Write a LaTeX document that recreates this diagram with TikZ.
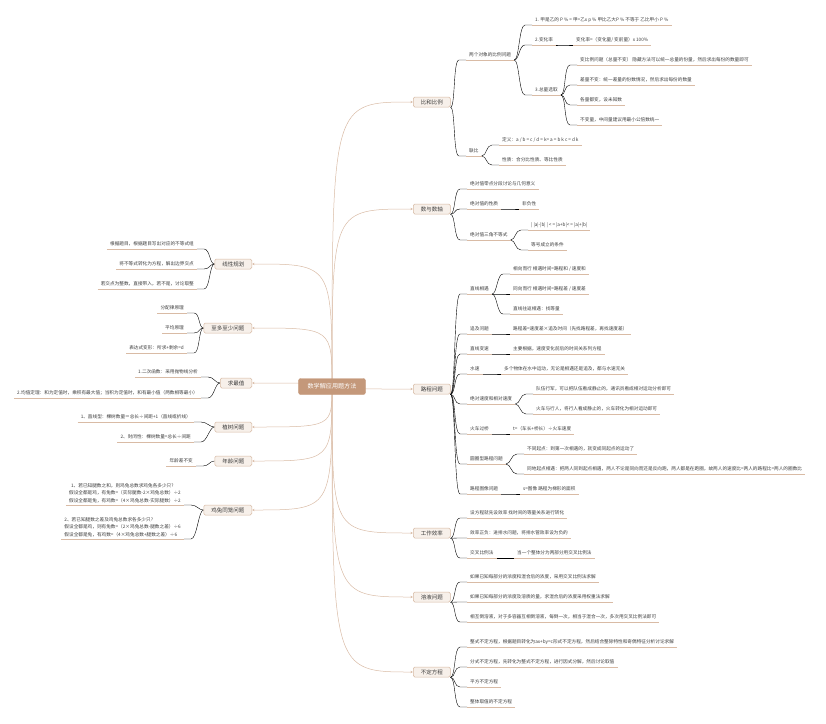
\documentclass[tikz,border=0pt]{standalone}
\usepackage{fontspec}
\setmainfont{Noto Sans CJK SC}
\usetikzlibrary{arrows.meta,backgrounds}

\definecolor{linec}{HTML}{D9BBA5}
\definecolor{boxfill}{HTML}{F7F0EA}
\definecolor{boxline}{HTML}{D6B9A3}
\definecolor{rootfill}{HTML}{C4987A}
\definecolor{textc}{HTML}{3C3C3C}

\begin{document}
\begin{tikzpicture}[x=1pt, y=-1pt,
  link/.style={draw=linec, line width=0.5pt},
  uline/.style={append after command={(\tikzlastnode.south west) edge[link] (\tikzlastnode.south east)}},
  root/.style={draw=rootfill, fill=rootfill, rounded corners=2pt, text=white, font=\fontsize{6.1}{7}\selectfont, inner xsep=9pt, inner ysep=0pt, minimum height=16pt},
  topic/.style={draw=boxline, fill=boxfill, rounded corners=1.5pt, line width=0.5pt, text=textc, font=\fontsize{5.5}{6}\selectfont, inner xsep=7.5pt, inner ysep=0pt, minimum height=10pt},
  leaf/.style={anchor=south west, inner xsep=3pt, inner ysep=2.2pt, text height=3.9pt, text depth=0.7pt, text=textc, font=\fontsize{4.65}{5}\selectfont, uline},
  lleaf/.style={leaf, anchor=south east},
  mleaf/.style={anchor=south east, align=left, inner xsep=3pt, inner ysep=2.2pt, text=textc, font=\fontsize{4.65}{7.4}\selectfont, uline},
  rlink/.style={link, to path={.. controls +(5,0) and +(-6,0) .. ([xshift=-7pt]\tikztotarget) -- (\tikztotarget)}},
  llink/.style={link, to path={.. controls +(-5,0) and +(6,0) .. ([xshift=7pt]\tikztotarget) -- (\tikztotarget)}},
  trunk/.style={link, -{Stealth[length=2.6pt, width=2.4pt]}}
]
\useasboundingbox (0,0) rectangle (826,723);

% Root
\node[root] (root) at (332,386.5) {数学解应用题方法};

% Main topics, right
\node[topic, anchor=west] (bh) at (413,102) {比和比例};
\node[topic, anchor=west] (sz) at (413,209) {数与数轴};
\node[topic, anchor=west] (lc) at (413,389) {路程问题};
\node[topic, anchor=west] (gz) at (413,533) {工作效率};
\node[topic, anchor=west] (ry) at (413,597) {溶液问题};
\node[topic, anchor=west] (bd) at (413,672) {不定方程};

% Main topics, left
\node[topic, anchor=east] (xx) at (252,264) {线性规划};
\node[topic, anchor=east] (zd) at (252,328) {至多至少问题};
\node[topic, anchor=east] (qz) at (252,383) {求最值};
\node[topic, anchor=east] (zs) at (252,427) {植树问题};
\node[topic, anchor=east] (nl) at (252,461) {年龄问题};
\node[topic, anchor=east] (jt) at (252,510) {鸡兔同笼问题};

% Ratio and proportion
\node[leaf] (bh1) at (466,60) {两个对象的比例问题};
\node[leaf] (bh11) at (532,25) {1. 甲是乙的 P \% = 甲=乙x p \% 甲比乙大P \% 不等于 乙比甲小 P \%};
\node[leaf] (bh12) at (532,45) {2.变化率};
\node[leaf] (bh121) at (573,45) {变化率=（变化量/ 变前量）x 100\%};
\node[leaf] (bh13) at (532,95) {3.总量选取};
\node[leaf] (bh131) at (577,65) {变比例问题（总量不变） 隐藏方法可以统一总量的份量，然后求出每份的数量即可};
\node[leaf] (bh132) at (577,85) {差量不变：统一差量的份数情况，然后求出每份的数量};
\node[leaf] (bh133) at (577,105) {各量都变，设未知数};
\node[leaf] (bh134) at (577,125) {不变量，中间量建议用最小公倍数统一};
\node[leaf] (bh2) at (466,156) {联比};
\node[leaf] (bh21) at (499,145) {定义：a / b = c / d = k= a = b k c = d k};
\node[leaf] (bh22) at (499,165) {性质：合分比性质、等比性质};

% Numbers and number line
\node[leaf] (sz1) at (467,189) {绝对值零点分段讨论与几何意义};
\node[leaf] (sz2) at (467,209) {绝对值的性质};
\node[leaf] (sz21) at (519,209) {非负性};
\node[leaf] (sz3) at (467,240) {绝对值三角不等式};
\node[leaf] (sz31) at (528,230) {| |a|-|b| | < = |a+b|< = |a|+|b|};
\node[leaf] (sz32) at (528,250) {等号成立的条件};

% Distance
\node[leaf] (lc1) at (467,294) {直线相遇};
\node[leaf] (lc11) at (510,274) {相向而行 相遇时间=路程和 / 速度和};
\node[leaf] (lc12) at (510,294) {同向而行 相遇时间=路程差 / 速度差};
\node[leaf] (lc13) at (510,314) {直线往返相遇：找等量};
\node[leaf] (lc2) at (467,334) {追及问题};
\node[leaf] (lc21) at (510,334) {路程差=速度差×追及时间（先找路程差，再找速度差）};
\node[leaf] (lc3) at (467,354) {直线变速};
\node[leaf] (lc31) at (510,354) {主要根据，速度变化前后的时间关系列方程};
\node[leaf] (lc4) at (467,374) {水速};
\node[leaf] (lc41) at (501,374) {多个物体在水中运动，无论是相遇还是追及，都与水速无关};
\node[leaf] (lc5) at (467,404) {绝对速度和相对速度};
\node[leaf] (lc51) at (533,394) {队伍行军，可以把队伍看成静止的，通讯员看成相对运动分析即可};
\node[leaf] (lc52) at (533,414) {火车与行人，将行人看成静止的，火车转化为相对运动即可};
\node[leaf] (lc6) at (467,434) {火车过桥};
\node[leaf] (lc61) at (510,434) {t=（车长+桥长）÷火车速度};
\node[leaf] (lc7) at (467,464) {圆圈型路程问题};
\node[leaf] (lc71) at (524,454) {不同起点：到第一次相遇的，就变成同起点的运动了};
\node[leaf] (lc72) at (524,474) {同地起点相遇：把两人同到起点相遇，两人不论是同向而还是反向跑，两人都是在跑圈，故两人的速度比=两人的路程比=两人的圈数比};
\node[leaf] (lc8) at (467,494) {路程图像问题};
\node[leaf] (lc81) at (520,494) {s=图像 路程为梯形的面积};

% Work rate
\node[leaf] (gz1) at (467,518) {设方程就先设效率 找时间的等量关系进行转化};
\node[leaf] (gz2) at (467,538) {效率正负：进排水问题，将排水管效率设为负的};
\node[leaf] (gz3) at (467,558) {交叉比例法};
\node[leaf] (gz31) at (514,558) {当一个整体分为两部分用交叉比例法};

% Solutions
\node[leaf] (ry1) at (467,582) {如果已知每部分的浓度和混合后的浓度，采用交叉比例法求解};
\node[leaf] (ry2) at (467,602) {如果已知每部分的浓度及溶质的量，求混合后的浓度采用权重法求解};
\node[leaf] (ry3) at (467,622) {相互倒溶液，对于多容器互相倒溶液，每倒一次，相当于混合一次，多次用交叉比例法即可};

% Indeterminate equations
\node[leaf] (bd1) at (467,647) {整式不定方程，根据题目转化为ax+by=c形式不定方程，然后结合整除特性和奇偶特征分析讨论求解};
\node[leaf] (bd2) at (467,667) {分式不定方程，先转化为整式不定方程，进行因式分解，然后讨论取值};
\node[leaf] (bd3) at (467,687) {平方不定方程};
\node[leaf] (bd4) at (467,707) {整体取值的不定方程};

% Left side
\node[lleaf] (xx1) at (197,249) {根据题目，根据题目写出对应的不等式组};
\node[lleaf] (xx2) at (197,269) {将不等式转化为方程，解出边界交点};
\node[lleaf] (xx3) at (197,289) {若交点为整数，直接带入，若不是，讨论取整};
\node[lleaf] (zd1) at (187,313) {分配律原理};
\node[lleaf] (zd2) at (187,333) {平均原理};
\node[lleaf] (zd3) at (187,353) {表达式变形：所求+剩余=d};
\node[lleaf] (qz1) at (201,377) {1.二次函数：采用抛物线分析};
\node[lleaf] (qz2) at (201,398) {2.均值定理：和为定值时，乘积有最大值；当积为定值时，和有最小值（两数相等最小）};
\node[lleaf] (zs1) at (194,422) {1、直线型：棵树数量＝总长÷间距+1（直线或折线）};
\node[lleaf] (zs2) at (194,442) {2、封闭性：棵树数量=总长÷间距};
\node[lleaf] (nl1) at (196,466) {年龄差不变};
\node[mleaf] (jt1) at (184,505) {\hspace{2pt}1、若已知腿数之和，则鸡兔总数求鸡兔各多少只?\\假设全都是鸡，有兔数=（实际腿数-2×鸡兔总数）÷2\\假设全都是兔，有鸡数=（4×鸡兔总数-实际腿数）÷2};
\node[mleaf] (jt2) at (184,539) {2、若已知腿数之差及鸡兔总数求各多少只?\\假设全都是鸡，则有兔数=（2×鸡兔总数-腿数之差）÷6\\假设全都是兔，有鸡数=（4×鸡兔总数+腿数之差）÷6};

\begin{scope}[on background layer]
  % Root to topics
  \foreach \t in {bh,sz,lc,gz,ry,bd}
    \draw[trunk] (root.center) .. controls (root.center |- \t.west) .. (\t.west);
  \foreach \t in {xx,zd,qz,zs,nl,jt}
    \draw[trunk] (root.center) .. controls (root.center |- \t.east) .. (\t.east);

  % Right branches
  \foreach \a/\b in {bh/bh1, bh/bh2, bh1/bh11, bh1/bh12, bh12/bh121, bh1/bh13,
      bh13/bh131, bh13/bh132, bh13/bh133, bh13/bh134, bh2/bh21, bh2/bh22,
      sz/sz1, sz/sz2, sz2/sz21, sz/sz3, sz3/sz31, sz3/sz32,
      lc/lc1, lc1/lc11, lc1/lc12, lc1/lc13, lc/lc2, lc2/lc21, lc/lc3, lc3/lc31,
      lc/lc4, lc4/lc41, lc/lc5, lc5/lc51, lc5/lc52, lc/lc6, lc6/lc61,
      lc/lc7, lc7/lc71, lc7/lc72, lc/lc8, lc8/lc81,
      gz/gz1, gz/gz2, gz/gz3, gz3/gz31, ry/ry1, ry/ry2, ry/ry3,
      bd/bd1, bd/bd2, bd/bd3, bd/bd4}
    \draw (\a.east |- \a.south east) to[rlink] (\b.south west);

  % Left branches
  \foreach \a/\b in {xx/xx1, xx/xx2, xx/xx3, zd/zd1, zd/zd2, zd/zd3, qz/qz1, qz/qz2,
      zs/zs1, zs/zs2, nl/nl1, jt/jt1, jt/jt2}
    \draw (\a.west) to[llink] (\b.south east);
\end{scope}

\end{tikzpicture}
\end{document}
